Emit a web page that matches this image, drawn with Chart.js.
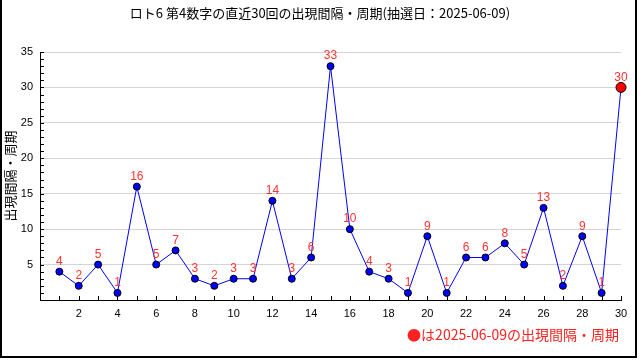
<!DOCTYPE html>
<html>
<head>
<meta charset="utf-8">
<script src="https://cdn.jsdelivr.net/npm/chart.js@4"></script>
<style>
html,body{margin:0;padding:0;background:#fff;}
#wrap{position:relative;width:640px;height:360px;}
#frame{position:absolute;left:0;top:0;width:637px;height:358px;border-left:2px solid #000;border-right:2px solid #000;border-bottom:2px solid #000;box-sizing:border-box;pointer-events:none;}
canvas{position:absolute;left:0;top:0;}
</style>
</head>
<body>
<div id="wrap">
<canvas id="c" width="640" height="360"></canvas>
<div id="frame"></div>
</div>
<script>
const titleText = 'ロト6 第4数字の直近30回の出現間隔・周期(抽選日：2025-06-09)';
const yTitle = '出現間隔・周期';
const legendText = '●は2025-06-09の出現間隔・周期';
const draws = [1,2,3,4,5,6,7,8,9,10,11,12,13,14,15,16,17,18,19,20,21,22,23,24,25,26,27,28,29,30];
const intervals = [4,2,5,1,16,5,7,3,2,3,3,14,3,6,33,10,4,3,1,9,1,6,6,8,5,13,2,9,1,30];
const yTickLabels = [5,10,15,20,25,30,35];
const xTickLabels = [2,4,6,8,10,12,14,16,18,20,22,24,26,28,30];

const JP = '"Noto Sans CJK JP", sans-serif';
const RED = '#ff3333';

const pts = draws.map((d,i)=>({x:d,y:intervals[i]}));
const lastIdx = pts.length-1;

const deco = {
  id:'deco',
  afterDatasetsDraw(chart){
    const ctx = chart.ctx;
    const meta = chart.getDatasetMeta(0);
    ctx.save();
    ctx.fillStyle = RED;
    ctx.font = '12px "Liberation Sans", Arial, sans-serif';
    ctx.textAlign = 'center';
    ctx.textBaseline = 'middle';
    meta.data.forEach((el,i)=>{
      ctx.fillText(String(intervals[i]), el.x, el.y - 10);
    });
    ctx.restore();
  },
  afterDraw(chart){
    const ctx = chart.ctx;
    const xs = chart.scales.x, ys = chart.scales.y;
    const a = chart.chartArea;
    ctx.save();
    ctx.strokeStyle = '#000';
    ctx.lineWidth = 1;
    ctx.beginPath();
    for(let v=1; v<=35; v++){
      const y = Math.round(ys.getPixelForValue(v))+0.5;
      ctx.moveTo(a.left, y); ctx.lineTo(a.left+4, y);
    }
    for(let v=1; v<=30; v++){
      const x = Math.round(xs.getPixelForValue(v))+0.5;
      ctx.moveTo(x, a.bottom); ctx.lineTo(x, a.bottom-4);
    }
    ctx.stroke();
    ctx.fillStyle = '#000';
    ctx.font = '13px ' + JP;
    ctx.textAlign = 'center';
    ctx.textBaseline = 'middle';
    ctx.fillText(titleText, 320, 13);
    ctx.save();
    ctx.translate(10, 176);
    ctx.rotate(-Math.PI/2);
    ctx.fillText(yTitle, 0, 0);
    ctx.restore();
    ctx.fillStyle = '#ff2020';
    ctx.font = '14px ' + JP;
    ctx.textAlign = 'right';
    ctx.fillText(legendText, 619, 335);
    ctx.restore();
  }
};

new Chart(document.getElementById('c'), {
  type:'line',
  data:{
    datasets:[{
      data: pts,
      clip:false,
      borderColor:'#0000ff',
      borderWidth:1,
      tension:0,
      pointBackgroundColor: pts.map((p,i)=> i===lastIdx ? '#ff0000' : '#0000ff'),
      pointBorderColor:'#000',
      pointBorderWidth:1,
      pointRadius: pts.map((p,i)=> i===lastIdx ? 5 : 3.5),
      fill:false
    }]
  },
  options:{
    responsive:false,
    animation:false,
    devicePixelRatio:1,
    layout:{padding:{top:52,right:19,left:0,bottom:0}},
    plugins:{legend:{display:false},title:{display:false},tooltip:{enabled:false}},
    scales:{
      x:{
        type:'linear', min:0, max:30,
        afterFit(s){ s.height = 60; },
        grid:{display:true, drawOnChartArea:false, drawTicks:false},
        border:{display:true,color:'#000',width:1},
        ticks:{stepSize:1, autoSkip:false, maxRotation:0, padding:7, color:'#000', font:{family:'"Liberation Sans", Arial, sans-serif', size:11},
          callback:(v)=> xTickLabels.includes(v) ? String(v) : ''}
      },
      y:{
        type:'linear', min:0, max:35,
        afterFit(s){ s.width = 40; },
        grid:{drawTicks:false, color:(c)=> (c.tick && yTickLabels.includes(c.tick.value)) ? '#d4d4d4' : 'rgba(0,0,0,0)'},
        border:{display:true,color:'#000',width:1},
        ticks:{stepSize:1, autoSkip:false, padding:7, color:'#000', font:{family:'"Liberation Sans", Arial, sans-serif', size:11},
          callback:(v)=> yTickLabels.includes(v) ? String(v) : ''}
      }
    }
  },
  plugins:[deco]
});
</script>
</body>
</html>
